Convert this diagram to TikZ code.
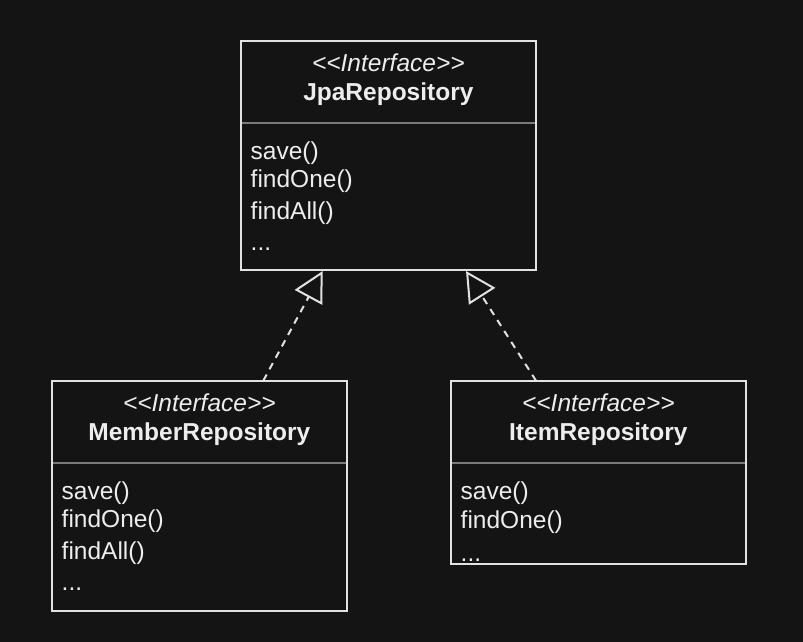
\documentclass[tikz,border=0pt]{standalone}
\usepackage{fontspec}
\setmainfont{Liberation Sans}
\usetikzlibrary{arrows.meta,calc}
\definecolor{bg}{HTML}{141414}
\definecolor{edge}{HTML}{E2E2E2}
\definecolor{sepc}{HTML}{7A7A7A}
\definecolor{txt}{HTML}{EDEDED}
\begin{document}
\begin{tikzpicture}[x=1pt,y=-1pt,
  box/.style={draw=edge, line width=2pt, fill=bg, anchor=north west, inner sep=0pt, outer sep=0pt, minimum width=294.7pt},
  sepline/.style={draw=sepc, line width=2pt},
  stereo/.style={anchor=base, inner sep=0pt, text=txt, font=\fontsize{24.5}{29}\selectfont\itshape},
  title/.style={anchor=base, inner sep=0pt, text=txt, font=\fontsize{24.5}{29}\selectfont\bfseries},
  meth/.style={anchor=base west, inner sep=0pt, text=txt, font=\fontsize{24.5}{29}\selectfont},
  realize/.style={draw=edge, line width=2pt, dash pattern=on 7pt off 6pt, -{Triangle[open, length=30pt, width=31pt]}}
]
\fill[bg] (0,0) rectangle (803,642);
\useasboundingbox (0,0) rectangle (803,642);

% boxes
\node[box, minimum height=229.3pt] (jpa) at (241,40.7) {};
\node[box, minimum height=230pt] (mem) at (52,380.7) {};
\node[box, minimum height=183.6pt] (item) at (451,380.7) {};

% separators
\draw[sepline] ($(jpa.north west)+(1,82)$) -- ($(jpa.north east)+(-1,82)$);
\draw[sepline] ($(mem.north west)+(1,82.6)$) -- ($(mem.north east)+(-1,82.6)$);
\draw[sepline] ($(item.north west)+(1,82.6)$) -- ($(item.north east)+(-1,82.6)$);

% JpaRepository
\node[stereo] (jpast) at ($(jpa.north)+(0,31)$) {<\kern0pt<Interface>\kern0pt>};
\node[title] (jpati) at ($(jpa.north)+(0,60)$) {JpaRepository};
\node[meth] (jpam1) at ($(jpa.north west)+(9.5,118.6)$) {save()};
\node[meth] (jpam2) at ($(jpa.north west)+(9.5,147)$) {findOne()};
\node[meth] (jpam3) at ($(jpa.north west)+(9.5,178.6)$) {findAll()};
\node[meth] (jpam4) at ($(jpa.north west)+(9.5,210)$) {...};

% MemberRepository
\node[stereo] (memst) at ($(mem.north)+(0,31)$) {<\kern0pt<Interface>\kern0pt>};
\node[title] (memti) at ($(mem.north)+(0,60)$) {MemberRepository};
\node[meth] (memm1) at ($(mem.north west)+(9.5,118.6)$) {save()};
\node[meth] (memm2) at ($(mem.north west)+(9.5,147)$) {findOne()};
\node[meth] (memm3) at ($(mem.north west)+(9.5,178.6)$) {findAll()};
\node[meth] (memm4) at ($(mem.north west)+(9.5,210)$) {...};

% ItemRepository
\node[stereo] (itemst) at ($(item.north)+(0,31)$) {<\kern0pt<Interface>\kern0pt>};
\node[title] (itemti) at ($(item.north)+(0,60)$) {ItemRepository};
\node[meth] (itemm1) at ($(item.north west)+(9.5,118.6)$) {save()};
\node[meth] (itemm2) at ($(item.north west)+(9.5,147.6)$) {findOne()};
\node[meth] (itemm3) at ($(item.north west)+(9.5,181)$) {...};

% realization connectors
\coordinate (a1s) at ($(mem.north west)+(211.3,0)$);
\coordinate (a1e) at ($(jpa.south west)+(81.7,1)$);
\coordinate (a2s) at ($(item.north west)+(85,0)$);
\coordinate (a2e) at ($(jpa.south west)+(225,1)$);
\draw[realize] (a1s) -- (a1e);
\draw[realize] (a2s) -- (a2e);
\end{tikzpicture}
\end{document}
